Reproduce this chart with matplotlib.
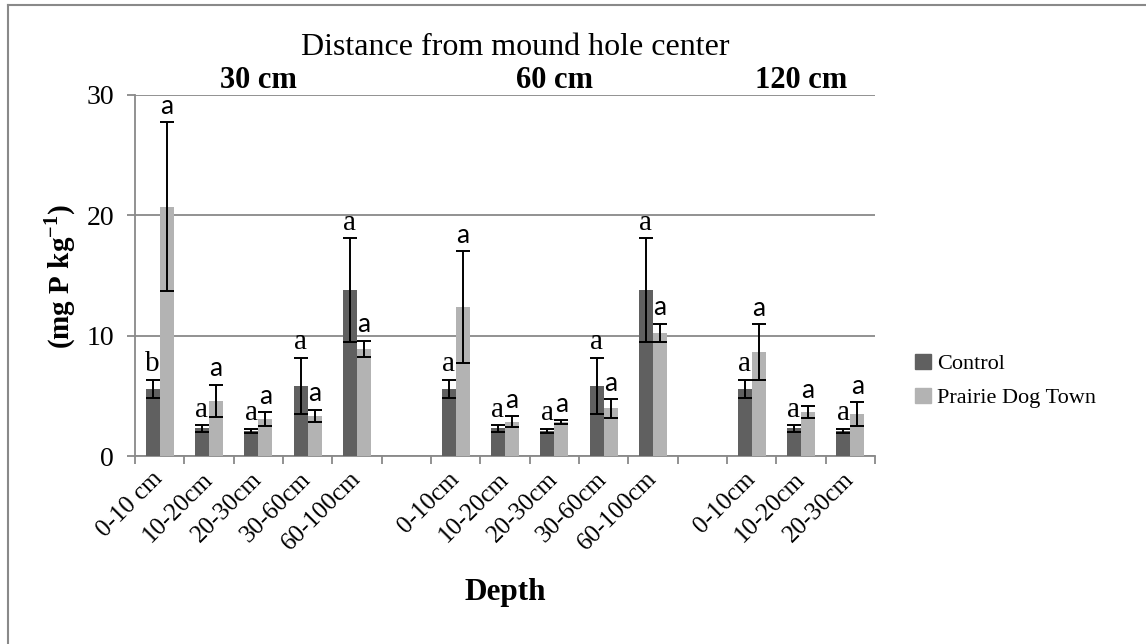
import numpy as np
import matplotlib
matplotlib.use('agg')
import matplotlib.pyplot as plt
from matplotlib.lines import Line2D
from matplotlib.patches import Patch

plt.rcParams['font.family'] = 'Liberation Serif'
plt.rcParams['mathtext.fontset'] = 'custom'
plt.rcParams['mathtext.rm'] = 'Liberation Serif'
plt.rcParams['mathtext.bf'] = 'Liberation Serif:bold'

nan = np.nan

# soil depth classes, blanks separate the three distance groups
depths = ['0-10 cm', '10-20cm', '20-30cm', '30-60cm', '60-100cm', '',
          '0-10cm', '10-20cm', '20-30cm', '30-60cm', '60-100cm', '',
          '0-10cm', '10-20cm', '20-30cm']
distances = ['30 cm', '60 cm', '120 cm']
group_slots = [(0, 4), (6, 10), (12, 14)]

control = [5.57, 2.30, 2.08, 5.85, 13.77, nan,
           5.57, 2.30, 2.08, 5.85, 13.77, nan,
           5.57, 2.30, 2.08]
control_se = [0.78, 0.27, 0.20, 2.33, 4.32, nan,
              0.78, 0.27, 0.20, 2.33, 4.32, nan,
              0.78, 0.27, 0.20]
pdt = [20.70, 4.60, 3.07, 3.33, 8.90, nan,
       12.39, 2.85, 2.80, 3.96, 10.22, nan,
       8.64, 3.63, 3.49]
pdt_se = [7.02, 1.33, 0.55, 0.53, 0.68, nan,
          4.63, 0.44, 0.17, 0.78, 0.78, nan,
          2.29, 0.50, 0.97]
control_letters = ['b', 'a', 'a', 'a', 'a', '',
                   'a', 'a', 'a', 'a', 'a', '',
                   'a', 'a', 'a']
pdt_letters = ['a', 'a', 'a', 'a', 'a', '',
               'a', 'a', 'a', 'a', 'a', '',
               'a', 'a', 'a']

dark = '#606060'
light = '#b3b3b3'
grey = '#898989'

W, H = 1146, 644
fig = plt.figure(figsize=(W / 100, H / 100), dpi=100)
ax = fig.add_axes([135 / W, 1 - 456 / H, 740 / W, 361 / H])

x = np.arange(len(depths))
w = 0.285
ax.bar(x - w / 2, control, w, color=dark, zorder=3)
ax.bar(x + w / 2, pdt, w, color=light, zorder=3)
err_kw = dict(fmt='none', ecolor='black', elinewidth=1.4, capsize=5, capthick=1.4, zorder=4)
ax.errorbar(x - w / 2, control, yerr=control_se, **err_kw)
ax.errorbar(x + w / 2, pdt, yerr=pdt_se, **err_kw)

# significance letters above the error bars
for i in range(len(depths)):
    if control_letters[i]:
        ax.annotate(control_letters[i], (x[i] - w / 2, control[i] + control_se[i]),
                    xytext=(0, 6), textcoords='offset points', ha='center', va='baseline',
                    fontsize=21, family='Liberation Serif')
    if pdt_letters[i]:
        ax.annotate(pdt_letters[i], (x[i] + w / 2, pdt[i] + pdt_se[i]),
                    xytext=(0, 6), textcoords='offset points', ha='center', va='baseline',
                    fontsize=19, family='Lato')

ax.set_xlim(-0.5, len(depths) - 0.5)
ax.set_ylim(0, 30)
ax.set_yticks([0, 10, 20, 30])
ax.yaxis.grid(True, color=grey, linewidth=1.3, zorder=0)
ax.set_axisbelow(True)
for s in ['top', 'right']:
    ax.spines[s].set_visible(False)
for s in ['left', 'bottom']:
    ax.spines[s].set_color(grey)
    ax.spines[s].set_linewidth(1.3)
ax.tick_params(axis='y', length=6, width=1.3, color=grey, labelsize=20, pad=9)

# labels centred on each slot, tick marks on the slot boundaries
ax.set_xticks(x, depths, rotation=45, ha='right', va='center', rotation_mode='anchor')
ax.set_xticks(np.arange(len(depths) + 1) - 0.5, minor=True)
ax.tick_params(axis='x', which='major', length=0, labelsize=18, pad=14)
ax.tick_params(axis='x', which='minor', length=6, width=1.3, color=grey)

# distance group headings
for name, (a, b) in zip(distances, group_slots):
    ax.text((a + b) / 2, 1.02, name, transform=ax.get_xaxis_transform(),
            ha='center', va='baseline', fontsize=22, fontweight='bold')

fig.text(515 / W, 1 - 55 / H, 'Distance from mound hole center', ha='center', va='baseline', fontsize=23)
fig.text(505 / W, 1 - 600 / H, 'Depth', ha='center', va='baseline', fontsize=22.5, fontweight='bold')
fig.text(60 / W, 1 - 276 / H, r'(mg P kg$^{\mathbf{-1}}$)', rotation=90, ha='center', va='center',
         fontsize=21, fontweight='bold')

handles = [Patch(color=dark), Patch(color=light)]
fig.legend(handles, ['Control', 'Prairie Dog Town'], loc='center left',
           bbox_to_anchor=(915 / W, 1 - 381 / H), frameon=False, fontsize=16,
           handlelength=0.7, handleheight=0.7, handletextpad=0.3, labelspacing=0.6,
           borderpad=0, borderaxespad=0)

# outer chart border
fig.add_artist(Line2D([7.5 / W, 7.5 / W], [0, 1 - 4.5 / H], color=grey, linewidth=1.5))
fig.add_artist(Line2D([7.5 / W, 1], [1 - 4.5 / H, 1 - 4.5 / H], color=grey, linewidth=1.5))

fig.savefig('out.png', dpi=100)
